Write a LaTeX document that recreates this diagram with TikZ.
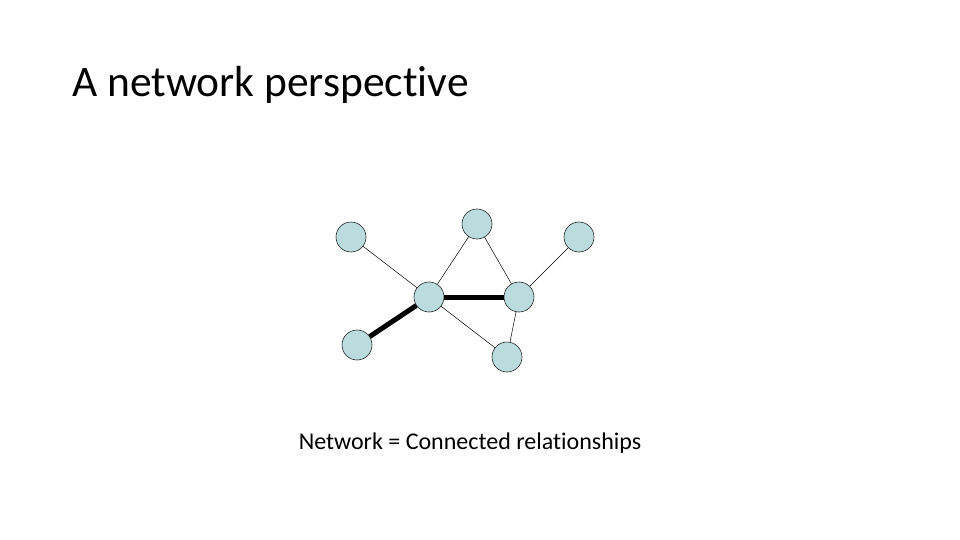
\documentclass[tikz,border=0pt]{standalone}
\usepackage{fontspec}
\setmainfont{Carlito}[Ligatures=NoCommon]
\definecolor{nodefill}{HTML}{BBDCDF}
\begin{document}
\begin{tikzpicture}[x=1pt,y=-1pt,
  vtx/.style={circle,draw=black!85,line width=0.6pt,fill=nodefill,minimum size=30pt,inner sep=0pt},
  thin edge/.style={draw=black,line width=0.5pt},
  thick edge/.style={draw=black,line width=5pt}]
\useasboundingbox (0,0) rectangle (960,540);
\node[anchor=base west,font=\fontsize{43.5}{50}\selectfont,inner sep=0pt] (title) at (72,97) {A network perspective};
\node (A) [vtx] at (351,237) {};
\node (B) [vtx] at (477,224) {};
\node (C) [vtx] at (579,237) {};
\node (D) [vtx] at (429,297) {};
\node (E) [vtx] at (519,297) {};
\node (F) [vtx] at (357,345) {};
\node (G) [vtx] at (507,357) {};
\draw[thin edge] (A) -- (D);
\draw[thin edge] (B) -- (D);
\draw[thin edge] (B) -- (E);
\draw[thin edge] (C) -- (E);
\draw[thin edge] (D) -- (G);
\draw[thin edge] (E) -- (G);
\draw[thick edge] (D) -- (E);
\draw[thick edge] (D) -- (F);
\node[anchor=base,font=\fontsize{24}{29}\selectfont,inner sep=0pt] (cap) at (470,449) {Network = Connected relationships};
\end{tikzpicture}
\end{document}
